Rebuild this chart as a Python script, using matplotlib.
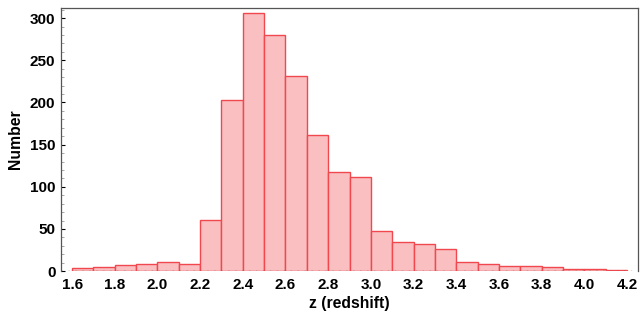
import numpy as np
import matplotlib
matplotlib.use("Agg")
import matplotlib.pyplot as plt
from matplotlib.ticker import MultipleLocator

# bin edges (z) and counts
bin_left = [1.6, 1.7, 1.8, 1.9, 2.0, 2.1, 2.2, 2.3, 2.4, 2.5, 2.6, 2.7, 2.8,
            2.9, 3.0, 3.1, 3.2, 3.3, 3.4, 3.5, 3.6, 3.7, 3.8, 3.9, 4.0, 4.1]
counts = [3.5, 5, 7, 9, 11, 8, 61, 203, 306, 280, 232, 162, 118,
          112, 48, 35, 32, 26, 11, 8, 5.5, 5.5, 5, 2.4, 2, 1.5]
x_ticks = [1.6, 1.8, 2.0, 2.2, 2.4, 2.6, 2.8, 3.0, 3.2, 3.4, 3.6, 3.8, 4.0, 4.2]
y_ticks = [0, 50, 100, 150, 200, 250, 300]

plt.rcParams["font.family"] = ["Liberation Sans", "DejaVu Sans"]

fig = plt.figure(figsize=(6.4, 3.22), dpi=100)
ax = fig.add_axes([0.0953, 0.158, 0.9016, 0.817])

ax.bar(bin_left, counts, width=0.1, align="edge",
       facecolor="#f9bfc1", edgecolor="#f0484e", linewidth=1.0)

ax.set_xlim(1.548, 4.252)
ax.set_ylim(0, 312)
ax.set_xticks(x_ticks)
ax.set_xticklabels([f"{t:.1f}" for t in x_ticks])
ax.set_yticks(y_ticks)
ax.yaxis.set_minor_locator(MultipleLocator(10))

ax.tick_params(axis="x", length=0, pad=5, labelsize=11)
ax.tick_params(axis="y", which="major", length=3, direction="in", pad=4, labelsize=11)
ax.tick_params(axis="y", which="minor", length=2, direction="in", color="#999999")
for lab in ax.get_xticklabels() + ax.get_yticklabels():
    lab.set_fontweight("bold")

for side in ["top", "right", "left"]:
    ax.spines[side].set_color("#555555")
    ax.spines[side].set_linewidth(0.9)
ax.spines["bottom"].set_visible(False)
ax.axhline(0, color="#555555", linestyle=(0, (1, 4)), linewidth=1.0, zorder=3)

ax.set_xlabel("z (redshift)", fontsize=11.3, fontweight="bold", labelpad=3)
ax.set_ylabel("Number", fontsize=11.3, fontweight="bold", labelpad=5)

fig.savefig("out.png", dpi=100)
